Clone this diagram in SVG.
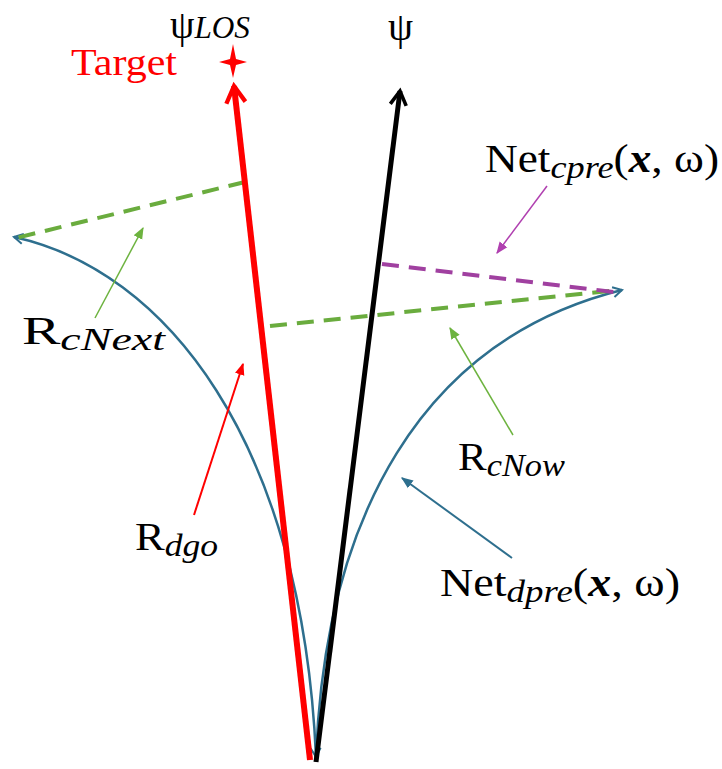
<svg xmlns="http://www.w3.org/2000/svg" width="722" height="769" viewBox="0 0 722 769">
<style>
.lbl{font-family:"Liberation Serif","DejaVu Serif",serif;font-size:40px;fill:#000}
.sub{font-style:italic;font-size:32px}
.dash{fill:none;stroke-width:4;stroke-dasharray:17 10}
.arc{fill:none;stroke:#2e6f8e;stroke-width:2.5}
</style>
<defs>
<marker id="chev" viewBox="0 0 12 12" refX="10" refY="6" markerWidth="12" markerHeight="12" markerUnits="userSpaceOnUse" orient="auto-start-reverse">
<path d="M1,1 L10,6 L1,11" fill="none" stroke="#2e6f8e" stroke-width="2"/>
</marker>
<marker id="ahRed" viewBox="0 0 10 10" refX="8" refY="5" markerWidth="4" markerHeight="4" orient="auto">
<path d="M1,1 L8,5 L1,9" fill="none" stroke="#ff0000" stroke-width="1.8"/>
</marker>
<marker id="ahBlack" viewBox="0 0 10 10" refX="8" refY="5" markerWidth="4" markerHeight="4" orient="auto">
<path d="M1,1 L8,5 L1,9" fill="none" stroke="#000" stroke-width="1.8"/>
</marker>
<marker id="tG" viewBox="0 0 10 10" refX="9" refY="5" markerWidth="12" markerHeight="12" markerUnits="userSpaceOnUse" orient="auto">
<path d="M0,1 L10,5 L0,9 Z" fill="#6db33f"/>
</marker>
<marker id="tR" viewBox="0 0 10 10" refX="9" refY="5" markerWidth="12" markerHeight="12" markerUnits="userSpaceOnUse" orient="auto">
<path d="M0,1 L10,5 L0,9 Z" fill="#ff0000"/>
</marker>
<marker id="tP" viewBox="0 0 10 10" refX="9" refY="5" markerWidth="12" markerHeight="12" markerUnits="userSpaceOnUse" orient="auto">
<path d="M0,1 L10,5 L0,9 Z" fill="#b040b0"/>
</marker>
<marker id="tB" viewBox="0 0 10 10" refX="9" refY="5" markerWidth="12" markerHeight="12" markerUnits="userSpaceOnUse" orient="auto">
<path d="M0,1 L10,5 L0,9 Z" fill="#2e6f8e"/>
</marker>
</defs>
<rect width="722" height="769" fill="#fff"/>
<g id="connectors">
<path class="arc" d="M316,757 C302,440 165,270 14,237" marker-start="url(#chev)" marker-end="url(#chev)"/>
<path class="arc" d="M316,757 C325,520 420,340 622,290" marker-end="url(#chev)"/>
<line x1="245" y1="182" x2="16" y2="238" class="dash" stroke="#6aac3e"/>
<line x1="270" y1="326" x2="618" y2="290" class="dash" stroke="#6aac3e"/>
<line x1="382" y1="264" x2="614" y2="292" class="dash" stroke="#a040a0"/>
<line x1="310" y1="760" x2="234" y2="86" stroke="#ff0000" stroke-width="6" marker-end="url(#ahRed)"/>
<line x1="316" y1="762" x2="400" y2="91" stroke="#000" stroke-width="5" marker-end="url(#ahBlack)"/>
<line x1="95" y1="318" x2="143" y2="228" stroke="#6db33f" stroke-width="1.5" marker-end="url(#tG)"/>
<line x1="194" y1="515" x2="243" y2="364" stroke="#ff0000" stroke-width="2" marker-end="url(#tR)"/>
<line x1="513" y1="435" x2="450" y2="328" stroke="#6db33f" stroke-width="1.5" marker-end="url(#tG)"/>
<line x1="547" y1="186" x2="497" y2="253" stroke="#b040b0" stroke-width="1.5" marker-end="url(#tP)"/>
<line x1="512" y1="558" x2="402" y2="478" stroke="#2e6f8e" stroke-width="2" marker-end="url(#tB)"/>
</g>
<g id="target">
<path d="M233,44 L236,59 L247,62 L236,65 L233,78 L230,65 L219,62 L230,59 Z" fill="#ff0000"/>
<text x="71" y="75" font-family="Liberation Serif,serif" font-size="38" fill="#ff0000" textLength="106" lengthAdjust="spacingAndGlyphs">Target</text>
</g>
<g id="psiLOS"><text class="lbl" x="170" y="38" textLength="80" lengthAdjust="spacingAndGlyphs">ψ<tspan class="sub" font-size="30">LOS</tspan></text></g>
<g id="psi"><text class="lbl" x="388" y="40">ψ</text></g>
<g id="netcpre"><text class="lbl" x="485" y="172" textLength="234" lengthAdjust="spacingAndGlyphs">Net<tspan class="sub" dy="6">cpre</tspan><tspan dy="-6">(</tspan><tspan font-weight="bold" font-style="italic">x</tspan><tspan>, ω)</tspan></text></g>
<g id="rcnext"><text class="lbl" x="22" y="344" textLength="143" lengthAdjust="spacingAndGlyphs">R<tspan class="sub" dy="6">cNext</tspan></text></g>
<g id="rcnow"><text class="lbl" x="458" y="470" textLength="107" lengthAdjust="spacingAndGlyphs">R<tspan class="sub" dy="6">cNow</tspan></text></g>
<g id="rdgo"><text class="lbl" x="135" y="550" textLength="83" lengthAdjust="spacingAndGlyphs">R<tspan class="sub" dy="6">dgo</tspan></text></g>
<g id="netdpre"><text class="lbl" x="440" y="596" textLength="240" lengthAdjust="spacingAndGlyphs">Net<tspan class="sub" dy="6">dpre</tspan><tspan dy="-6">(</tspan><tspan font-weight="bold" font-style="italic">x</tspan><tspan>, ω)</tspan></text></g>
</svg>
